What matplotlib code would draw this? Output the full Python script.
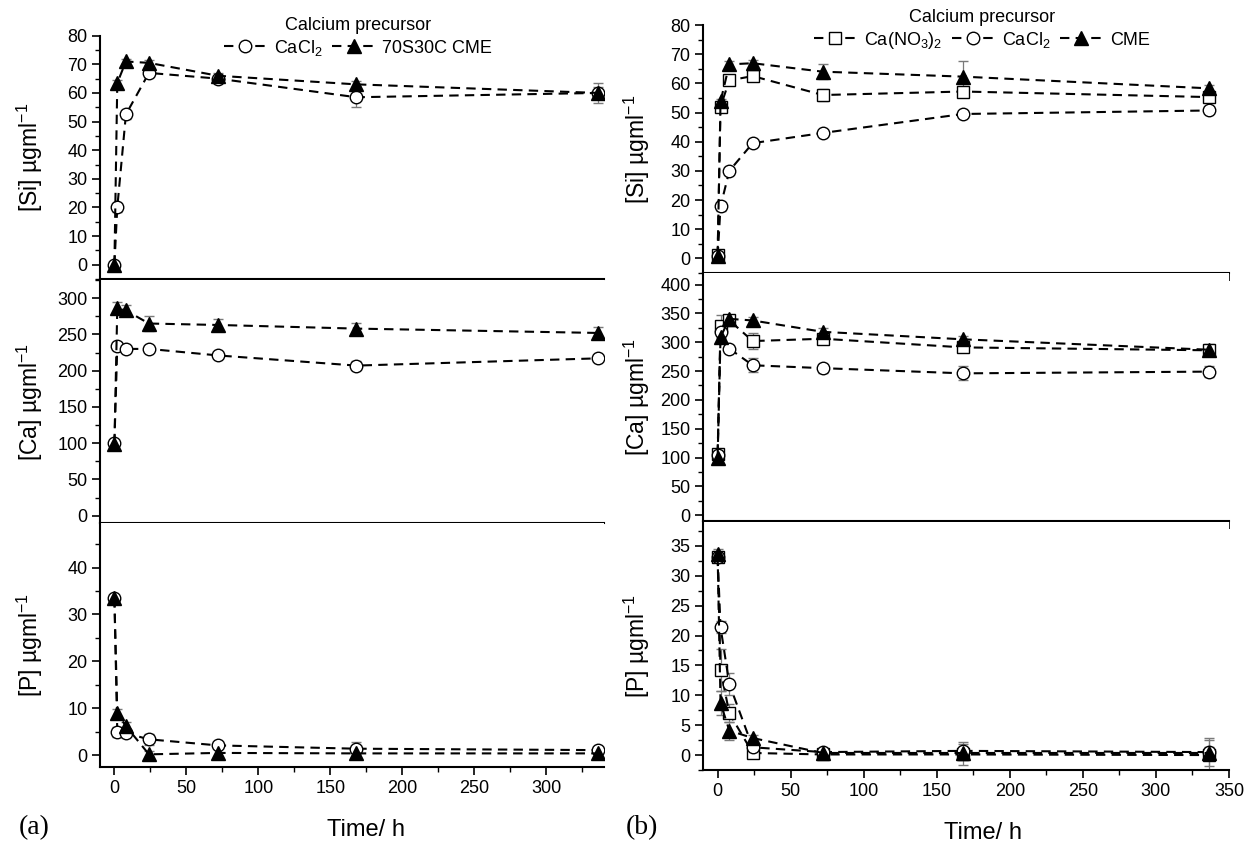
import matplotlib
matplotlib.use('Agg')
import matplotlib.pyplot as plt
from matplotlib.lines import Line2D
from matplotlib.ticker import MultipleLocator

plt.rcParams['font.family'] = ['Liberation Sans', 'DejaVu Sans']
plt.rcParams['mathtext.fontset'] = 'custom'
plt.rcParams['mathtext.rm'] = 'Liberation Sans'
plt.rcParams['mathtext.it'] = 'Liberation Sans:italic'
plt.rcParams['mathtext.bf'] = 'Liberation Sans:bold'

# ---------------- data ----------------
time_h = [0, 2, 8, 24, 72, 168, 336]

# panel (a): CaCl2 and 70S30C CME
a_si_cacl2 = [0, 20, 52.5, 67, 65, 58.5, 60]
a_si_cacl2_err = [0.5, 1.5, 1.5, 1.5, 1.0, 3.5, 3.5]
a_si_cme = [0, 63.5, 71, 70.5, 66, 63, 60]
a_si_cme_err = [0.5, 1.0, 1.0, 1.0, 1.0, 1.0, 2.0]

a_ca_cacl2 = [100, 234, 230, 230, 221, 207, 217]
a_ca_cacl2_err = [3, 6, 4, 4, 4, 6, 4]
a_ca_cme = [99, 286, 283, 265, 263, 258, 252]
a_ca_cme_err = [4, 8, 8, 10, 8, 8, 8]

a_p_cacl2 = [33.5, 5.0, 4.7, 3.4, 2.1, 1.4, 1.1]
a_p_cacl2_err = [0.5, 1.0, 0.8, 1.2, 0.6, 1.5, 0.6]
a_p_cme = [33.5, 9.0, 6.2, 0.2, 0.5, 0.4, 0.4]
a_p_cme_err = [0.5, 0.8, 0.8, 0.8, 1.0, 1.0, 1.0]

# panel (b): Ca(NO3)2, CaCl2 and CME
b_si_no3 = [1.1, 52, 61, 62.5, 56, 57.2, 55.3]
b_si_no3_err = [1.0, 1.0, 1.0, 1.5, 2.0, 1.5, 1.5]
b_si_cacl2 = [0.7, 17.8, 30, 39.5, 43, 49.5, 50.7]
b_si_cacl2_err = [1.0, 1.5, 1.5, 1.0, 1.0, 1.0, 1.0]
b_si_cme = [0.7, 53.8, 66.5, 66.9, 64, 62.3, 58.3]
b_si_cme_err = [1.0, 1.0, 1.0, 1.0, 2.5, 5.5, 1.0]

b_ca_no3 = [107, 328, 338, 302, 306, 291, 286]
b_ca_no3_err = [5, 20, 5, 14, 6, 6, 6]
b_ca_cacl2 = [105, 317, 289, 260, 255, 246, 249]
b_ca_cacl2_err = [5, 8, 6, 12, 8, 12, 10]
b_ca_cme = [100, 309, 340.5, 337.7, 318, 305, 287]
b_ca_cme_err = [10, 6, 6, 6, 6, 6, 10]

b_p_no3 = [33.2, 14.3, 7.0, 0.35, 0.1, 0.1, 0.0]
b_p_no3_err = [0.8, 3.5, 1.5, 0.5, 0.5, 1.8, 2.5]
b_p_cacl2 = [33.2, 21.4, 11.9, 1.3, 0.5, 0.7, 0.5]
b_p_cacl2_err = [0.8, 1.0, 1.8, 0.5, 0.5, 1.5, 2.3]
b_p_cme = [33.7, 8.7, 4.1, 2.85, 0.35, 0.35, 0.35]
b_p_cme_err = [0.8, 2.0, 1.5, 0.5, 0.5, 1.0, 1.0]

xlabel = 'Time/ h'
legend_title = 'Calcium precursor'
lab_cacl2 = 'CaCl$_2$'
lab_no3 = 'Ca(NO$_3$)$_2$'
lab_cme_a = '70S30C CME'
lab_cme_b = 'CME'
ylab_si = '[Si] µgml$^{-1}$'
ylab_ca = '[Ca] µgml$^{-1}$'
ylab_p = '[P] µgml$^{-1}$'

# ---------------- figure ----------------
W, H = 1255, 846
fig = plt.figure(figsize=(W / 100, H / 100), dpi=100)


def px_axes(x0, x1, ytop, ybot):
    return fig.add_axes([x0 / W, 1 - ybot / H, (x1 - x0) / W, (ybot - ytop) / H])


DASH = (0, (4.5, 3))
LW = 1.5
STY = {
    'circle': dict(marker='o', mfc='white', mec='black', ms=9),
    'square': dict(marker='s', mfc='white', mec='black', ms=8),
    'tri': dict(marker='^', mfc='black', mec='black', ms=10),
}


def series(ax, y, e, kind):
    ax.errorbar(time_h, y, yerr=e, color='black', ls=DASH, lw=LW,
                ecolor='#7a7a7a', elinewidth=0.9, capsize=3.5, capthick=0.9,
                mew=1.0, **STY[kind])


def style(ax, xlim, ylim, ymaj, ymin, show_xlabels, ylab, labx):
    ax.set_xlim(*xlim)
    ax.set_ylim(*ylim)
    for s in ('top', 'right'):
        ax.spines[s].set_visible(False)
    for s in ('left', 'bottom'):
        ax.spines[s].set_linewidth(1.5)
    ax.xaxis.set_major_locator(MultipleLocator(50))
    ax.xaxis.set_minor_locator(MultipleLocator(25))
    ax.yaxis.set_major_locator(MultipleLocator(ymaj))
    ax.yaxis.set_minor_locator(MultipleLocator(ymin))
    ax.tick_params(which='major', direction='out', length=6, width=1.2,
                   labelsize=13, pad=3)
    ax.tick_params(which='minor', direction='out', length=3.5, width=1.0)
    if not show_xlabels:
        ax.tick_params(axis='x', labelbottom=False)
    ax.set_ylabel(ylab, fontsize=16.5)
    ax.yaxis.set_label_coords(labx, 0.5)


# ---- panel (a) ----
AX0, AX1 = 100, 604
a_si = px_axes(AX0, AX1, 35.7, 279)
a_ca = px_axes(AX0, AX1, 280, 523)
a_p = px_axes(AX0, AX1, 523, 767)

series(a_si, a_si_cacl2, a_si_cacl2_err, 'circle')
series(a_si, a_si_cme, a_si_cme_err, 'tri')
series(a_ca, a_ca_cacl2, a_ca_cacl2_err, 'circle')
series(a_ca, a_ca_cme, a_ca_cme_err, 'tri')
series(a_p, a_p_cacl2, a_p_cacl2_err, 'circle')
series(a_p, a_p_cme, a_p_cme_err, 'tri')

la = -0.11
style(a_si, (-10, 340), (-5, 80), 10, 5, False, ylab_si, la)
style(a_ca, (-10, 340), (-10, 325), 50, 25, False, ylab_ca, la)
style(a_p, (-10, 340), (-2.5, 49.5), 10, 5, True, ylab_p, la)

# ---- panel (b) ----
BX0, BX1 = 703, 1229
b_si = px_axes(BX0, BX1, 25, 273)
b_ca = px_axes(BX0, BX1, 273, 521)
b_p = px_axes(BX0, BX1, 522, 770)

series(b_si, b_si_no3, b_si_no3_err, 'square')
series(b_si, b_si_cacl2, b_si_cacl2_err, 'circle')
series(b_si, b_si_cme, b_si_cme_err, 'tri')
series(b_ca, b_ca_no3, b_ca_no3_err, 'square')
series(b_ca, b_ca_cacl2, b_ca_cacl2_err, 'circle')
series(b_ca, b_ca_cme, b_ca_cme_err, 'tri')
series(b_p, b_p_no3, b_p_no3_err, 'square')
series(b_p, b_p_cacl2, b_p_cacl2_err, 'circle')
series(b_p, b_p_cme, b_p_cme_err, 'tri')

lb = -0.097
style(b_si, (-10, 350), (-5, 80), 10, 5, False, ylab_si, lb)
style(b_ca, (-10, 350), (-10, 420), 50, 25, False, ylab_ca, lb)
style(b_p, (-10, 350), (-2.5, 39), 5, 2.5, True, ylab_p, lb)


# ---- legends ----
def handle(kind):
    return Line2D([], [], color='black', ls=DASH, lw=LW, mew=1.0, **STY[kind])


leg_kw = dict(frameon=False, fontsize=13, title_fontsize=13, handlelength=2.4,
              handletextpad=0.4, columnspacing=0.5, borderpad=0.0,
              loc='upper center', labelspacing=0.2)
leg_a = fig.legend([handle('circle'), handle('tri')], [lab_cacl2, lab_cme_a],
                   ncol=2, title=legend_title,
                   bbox_to_anchor=(358 / W, 1 - 8 / H), **leg_kw)
leg_b = fig.legend([handle('square'), handle('circle'), handle('tri')],
                   [lab_no3, lab_cacl2, lab_cme_b], ncol=3, title=legend_title,
                   bbox_to_anchor=(982 / W, 1 - 0 / H), **leg_kw)

# ---- x labels and panel letters ----
fig.text(366 / W, 1 - 830 / H, xlabel, ha='center', va='center', fontsize=17)
fig.text(983 / W, 1 - 833 / H, xlabel, ha='center', va='center', fontsize=17)
fig.text(34 / W, 1 - 828 / H, '(a)', ha='center', va='center', fontsize=20,
         family=['Liberation Serif', 'DejaVu Serif'])
fig.text(642 / W, 1 - 828 / H, '(b)', ha='center', va='center', fontsize=20,
         family=['Liberation Serif', 'DejaVu Serif'])

fig.savefig('out.png', dpi=100)
